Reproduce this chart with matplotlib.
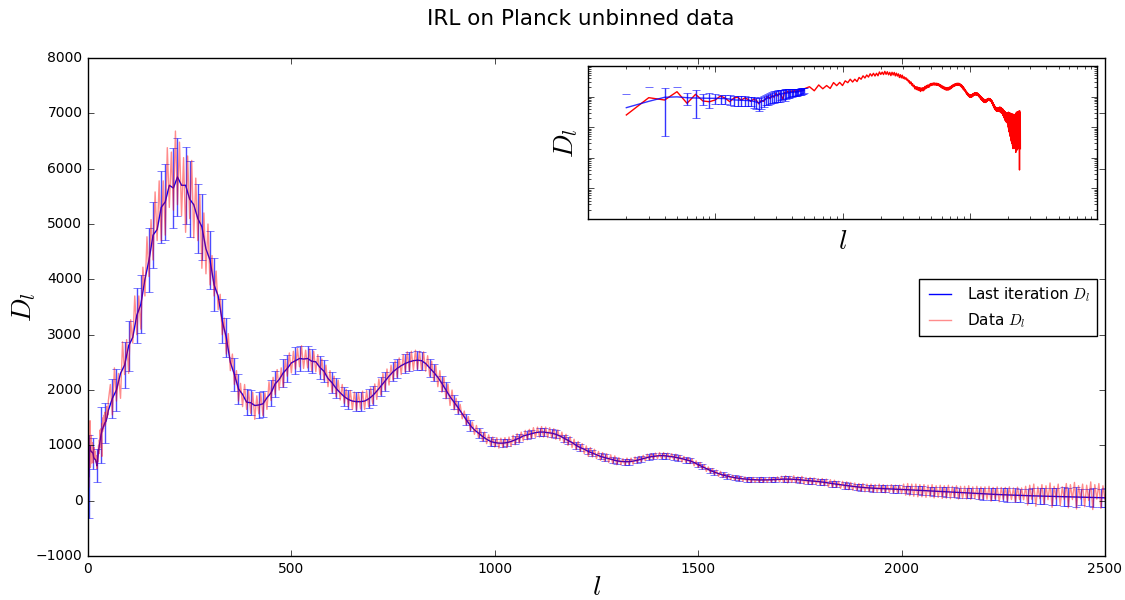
import matplotlib
matplotlib.use("Agg")
import matplotlib.pyplot as plt
import numpy as np
from matplotlib.ticker import NullFormatter

plt.style.use("classic")

# low multipoles, one value per l (2..50)
ell_low = np.arange(2, 51)
data_low = [251, 922, 774, 1445, 604, 1188, 718, 680, 780, 1050,
            880, 680, 900, 960, 760, 900, 820, 700, 820, 760,
            580, 760, 700, 860, 1000, 850, 1100, 950, 1280, 1050,
            1300, 1100, 800, 1400, 1250, 1500, 1300, 1450, 1550, 1350,
            1600, 1380, 1550, 1450, 1700, 1500, 1650, 1550, 1800]
fit_low = [435, 700, 950, 980, 920, 900, 890, 880, 880, 870,
           860, 830, 780, 770, 760, 750, 745, 735, 700, 660,
           630, 680, 760, 840, 900, 950, 1000, 1060, 1110, 1150,
           1190, 1220, 1250, 1280, 1300, 1320, 1340, 1360, 1380, 1400,
           1410, 1420, 1430, 1450, 1480, 1510, 1550, 1590, 1630]
err_low = [750, 1300, 900, 1100, 400, 700, 340, 450, 300, 300,
           280, 290, 270, 260, 280, 270, 260, 250, 270, 260,
           300, 280, 300, 320, 350, 380, 400, 420, 450, 480,
           500, 450, 420, 550, 480, 450, 420, 400, 380, 380,
           360, 360, 350, 350, 340, 340, 330, 330, 330]

# data D_l at l = 55, 60, ..., 2500
ell_data = np.arange(55, 2501, 5)
data_high = [
    2100, 1550, 2400, 1800, 2300, 1850, 2870, 2280, 2910, 2300,
    3270, 2850, 3700, 3000, 3700, 3100, 4220, 3700, 4770, 4050,
    5080, 4350, 5580, 4700, 5780, 4700, 5780, 4800, 6380, 5300,
    6300, 5250, 6680, 5350, 6480, 5150, 6200, 4850, 6230, 5100,
    6150, 4750, 5830, 4700, 5530, 4200, 5200, 4100, 5000, 3900,
    4430, 3700, 4150, 3450, 3730, 3000, 3300, 2650, 3020, 2350,
    2650, 2100, 2350, 1800, 2120, 1700, 2100, 1650, 1980, 1580,
    1960, 1470, 1895, 1570, 1940, 1540, 1950, 1650, 2150, 1810,
    2230, 1920, 2370, 2000, 2400, 2050, 2550, 2250, 2670, 2310,
    2700, 2380, 2750, 2420, 2800, 2390, 2720, 2400, 2740, 2350,
    2700, 2330, 2640, 2280, 2560, 2180, 2450, 2060, 2350, 1960,
    2250, 1880, 2180, 1820, 2100, 1760, 2010, 1700, 1990, 1650,
    1960, 1640, 1950, 1660, 1980, 1650, 1990, 1700, 2040, 1750,
    2110, 1830, 2200, 1910, 2300, 2000, 2380, 2090, 2450, 2180,
    2530, 2230, 2580, 2280, 2640, 2330, 2690, 2340, 2700, 2360,
    2720, 2380, 2700, 2360, 2690, 2340, 2620, 2250, 2520, 2170,
    2450, 2060, 2350, 1960, 2230, 1840, 2110, 1720, 2000, 1640,
    1850, 1580, 1740, 1480, 1620, 1370, 1520, 1270, 1420, 1200,
    1360, 1140, 1290, 1080, 1240, 1030, 1190, 990, 1150, 970,
    1140, 950, 1130, 960, 1140, 960, 1150, 980, 1180, 1010,
    1210, 1040, 1240, 1080, 1270, 1100, 1290, 1120, 1320, 1140,
    1330, 1150, 1340, 1150, 1330, 1140, 1320, 1130, 1300, 1110,
    1280, 1090, 1240, 1040, 1200, 1000, 1160, 960, 1110, 920,
    1070, 890, 1030, 850, 990, 800, 960, 790, 930, 760,
    890, 730, 870, 710, 850, 690, 830, 670, 810, 650,
    780, 650, 760, 640, 770, 650, 770, 660, 790, 680,
    800, 700, 820, 720, 840, 740, 850, 750, 860, 760,
    870, 760, 870, 760, 860, 750, 850, 740, 840, 720,
    820, 700, 800, 690, 780, 670, 760, 630, 720, 600,
    690, 570, 650, 530, 610, 500, 580, 470, 550, 440,
    530, 420, 500, 400, 480, 380, 460, 370, 450, 360,
    440, 350, 430, 340, 420, 330, 420, 330, 410, 330,
    420, 330, 410, 330, 420, 335, 420, 340, 430, 340,
    440, 330, 450, 320, 440, 330, 450, 320, 430, 310,
    440, 300, 420, 300, 420, 290, 410, 290, 400, 280,
    400, 270, 390, 250, 380, 240, 370, 240, 350, 220,
    350, 210, 340, 200, 330, 190, 320, 180, 310, 170,
    310, 160, 300, 160, 300, 150, 290, 150, 300, 150,
    290, 140, 280, 150, 290, 140, 280, 140, 280, 130,
    300, 100, 310, 90, 300, 80, 300, 70, 290, 70,
    290, 60, 280, 70, 290, 50, 270, 60, 280, 40,
    270, 45, 280, 35, 260, 50, 270, 30, 260, 40,
    260, 30, 270, 25, 250, 35, 260, 20, 250, 30,
    250, 25, 260, -10, 240, 30, 250, -20, 240, 25,
    240, -10, 250, 20, 230, -25, 245, 22, 230, 15,
    260, -80, 280, 25, 300, -100, 250, 35, 290, -60,
    270, 18, 320, -120, 260, 30, 300, -90, 250, 22,
    310, -130, 290, 20, 330, -150, 270, 32, 300, -110,
    280, 4, 340, -160, 290, 28, 310, -140, 270, 20]

# last iteration D_l and its errors at l = 60, 70, ..., 2500
ell_fit = np.arange(60, 2501, 10)
fit_high = [
    1850, 2000, 2300, 2450, 2800, 2950, 3350, 3550, 4000, 4350,
    4800, 4900, 5300, 5400, 5700, 5650, 5850, 5700, 5700, 5450,
    5350, 5100, 4950, 4550, 4350,
    3900, 3700, 3250, 2950, 2500, 2280, 2020, 1920, 1780, 1770,
    1720, 1730, 1750, 1860, 1950, 2110, 2190, 2310, 2390, 2490,
    2530, 2570, 2560, 2570, 2520, 2510, 2410, 2340, 2210, 2130,
    2030, 1950, 1880, 1830, 1800, 1790, 1790, 1800, 1840, 1900,
    1980, 2070, 2160, 2250, 2330, 2390, 2440, 2480, 2510, 2530,
    2540, 2530, 2480, 2400, 2320, 2230, 2120, 2000, 1880, 1780,
    1680, 1570, 1460, 1360, 1280, 1220, 1160, 1110, 1070, 1050,
    1040, 1040, 1050, 1070, 1100, 1130, 1170, 1190, 1210, 1230,
    1240, 1240, 1230, 1220, 1200, 1170, 1130, 1090, 1050, 1000,
    960, 930, 890, 860, 830, 800, 780, 760, 740, 720,
    710, 705, 705, 715, 730, 750, 770, 790, 800, 810,
    815, 810, 800, 790, 775, 760, 740, 720, 690, 650,
    615, 580, 545, 515, 490, 465, 445, 430, 415, 405,
    395, 388, 382, 378, 375, 375, 376, 378, 382, 386,
    390, 390, 388, 384, 378, 370, 362, 355, 350, 342,
    332, 320, 308, 298, 288, 278, 268, 258, 250, 242,
    236, 230, 226, 222, 219, 216, 213, 210, 207, 204,
    200, 196, 192, 188, 183, 178, 174, 170, 166, 162,
    158, 154, 150, 146, 142, 139, 135, 132, 128, 124,
    121, 118, 114, 110, 107, 104, 101, 98, 95, 92,
    90, 88, 86, 84, 82, 80, 78, 76, 74, 72,
    70, 68, 66, 64, 62, 60, 58, 56, 54, 52]
err_high = [
    350, 380, 400, 420, 450, 470, 500, 520, 550, 580,
    600, 620, 650, 680, 700, 720, 700, 720, 700, 680,
    650, 620, 600, 560, 520,
    480, 440, 400, 360, 320, 290, 270, 250, 240, 230,
    230, 230, 230, 230, 230, 240, 240, 250, 250, 250,
    240, 230, 220, 230, 220, 210, 210, 200, 190, 190,
    180, 180, 170, 170, 170, 170, 170, 170, 170, 170,
    170, 170, 170, 170, 170, 170, 170, 170, 170, 170,
    170, 160, 160, 160, 150, 150, 140, 140, 130, 130,
    120, 110, 100, 100, 90, 90, 80, 80, 80, 70,
    70, 70, 70, 70, 70, 70, 70, 70, 70, 70,
    70, 70, 70, 70, 70, 65, 65, 65, 65, 65,
    60, 60, 55, 55, 55, 55, 55, 55, 55, 55,
    55, 55, 55, 55, 55, 55, 55, 55, 55, 55,
    55, 55, 50, 50, 50, 50, 50, 45, 45, 45,
    45, 45, 45, 45, 45, 45, 45, 45, 45, 45,
    45, 45, 45, 45, 45, 45, 45, 45, 45, 45,
    50, 50, 50, 50, 50, 50, 55, 55, 55, 55,
    55, 55, 55, 55, 55, 60, 60, 60, 60, 60,
    60, 60, 65, 65, 65, 65, 65, 70, 70, 70,
    70, 70, 75, 75, 75, 80, 80, 80, 85, 85,
    85, 90, 90, 90, 95, 95, 95, 100, 100, 105,
    105, 105, 110, 115, 115, 120, 120, 125, 125, 130,
    130, 135, 135, 140, 140, 150, 150, 160, 160, 170,
    160, 170, 180, 150, 190, 160, 170, 180, 160, 170]

ell_d = np.concatenate([ell_low, ell_data])
data = np.concatenate([data_low, data_high]).astype(float)
ell_f = np.concatenate([ell_low, ell_fit])
fit = np.concatenate([fit_low, fit_high]).astype(float)

# error bars are shown on two out of every three fit points
show = (np.arange(len(ell_fit)) % 3) != 2

fig = plt.figure(figsize=(11.25, 6), dpi=100, facecolor="white")
ax = fig.add_axes([0.0782, 0.0733, 0.904, 0.830])

ax.plot(ell_f, fit, color="b", lw=1, label="Last iteration $D_l$")
ax.errorbar(ell_low[::10], np.array(fit_low)[::10], yerr=np.array(err_low)[::10],
            fmt="none", ecolor="b", alpha=0.7, capsize=3)
ax.errorbar(ell_fit[show], np.array(fit_high)[show], yerr=np.array(err_high)[show],
            fmt="none", ecolor="b", alpha=0.7, capsize=3)
ax.plot(ell_d, data, color="r", alpha=0.45, lw=1, label="Data $D_l$")

ax.set_xlim(0, 2500)
ax.set_ylim(-1000, 8000)
ax.set_xlabel("$l$", fontsize=20, labelpad=-1.5)
ax.set_ylabel("$D_l$", fontsize=20, labelpad=-2)
ax.tick_params(labelsize=10)
ax.legend(loc="upper right", bbox_to_anchor=(0.992, 0.556), fontsize=11,
          handlelength=2, borderpad=0.4, borderaxespad=0)

fig.suptitle("IRL on Planck unbinned data", fontsize=15.5, x=0.516, y=0.985)

# inset: log-log view
ax_in = fig.add_axes([0.5227, 0.635, 0.4524, 0.255])
ax_in.set_xscale("log", nonpositive="mask")
ax_in.set_yscale("log", nonpositive="mask")
ax_in.plot(ell_d, data, color="r", lw=1)
ax_in.errorbar(ell_low, fit_low, yerr=err_low, color="b", ecolor="b",
               alpha=0.8, capsize=3, lw=1)
ax_in.set_xlim(1, 1e4)
ax_in.set_ylim(0.1, 1e4)
for axis in (ax_in.xaxis, ax_in.yaxis):
    axis.set_major_formatter(NullFormatter())
    axis.set_minor_formatter(NullFormatter())
ax_in.set_xlabel("$l$", fontsize=20, labelpad=1.5)
ax_in.set_ylabel("$D_l$", fontsize=20, labelpad=1.5)

fig.savefig("out.png", dpi=100, facecolor="white")
